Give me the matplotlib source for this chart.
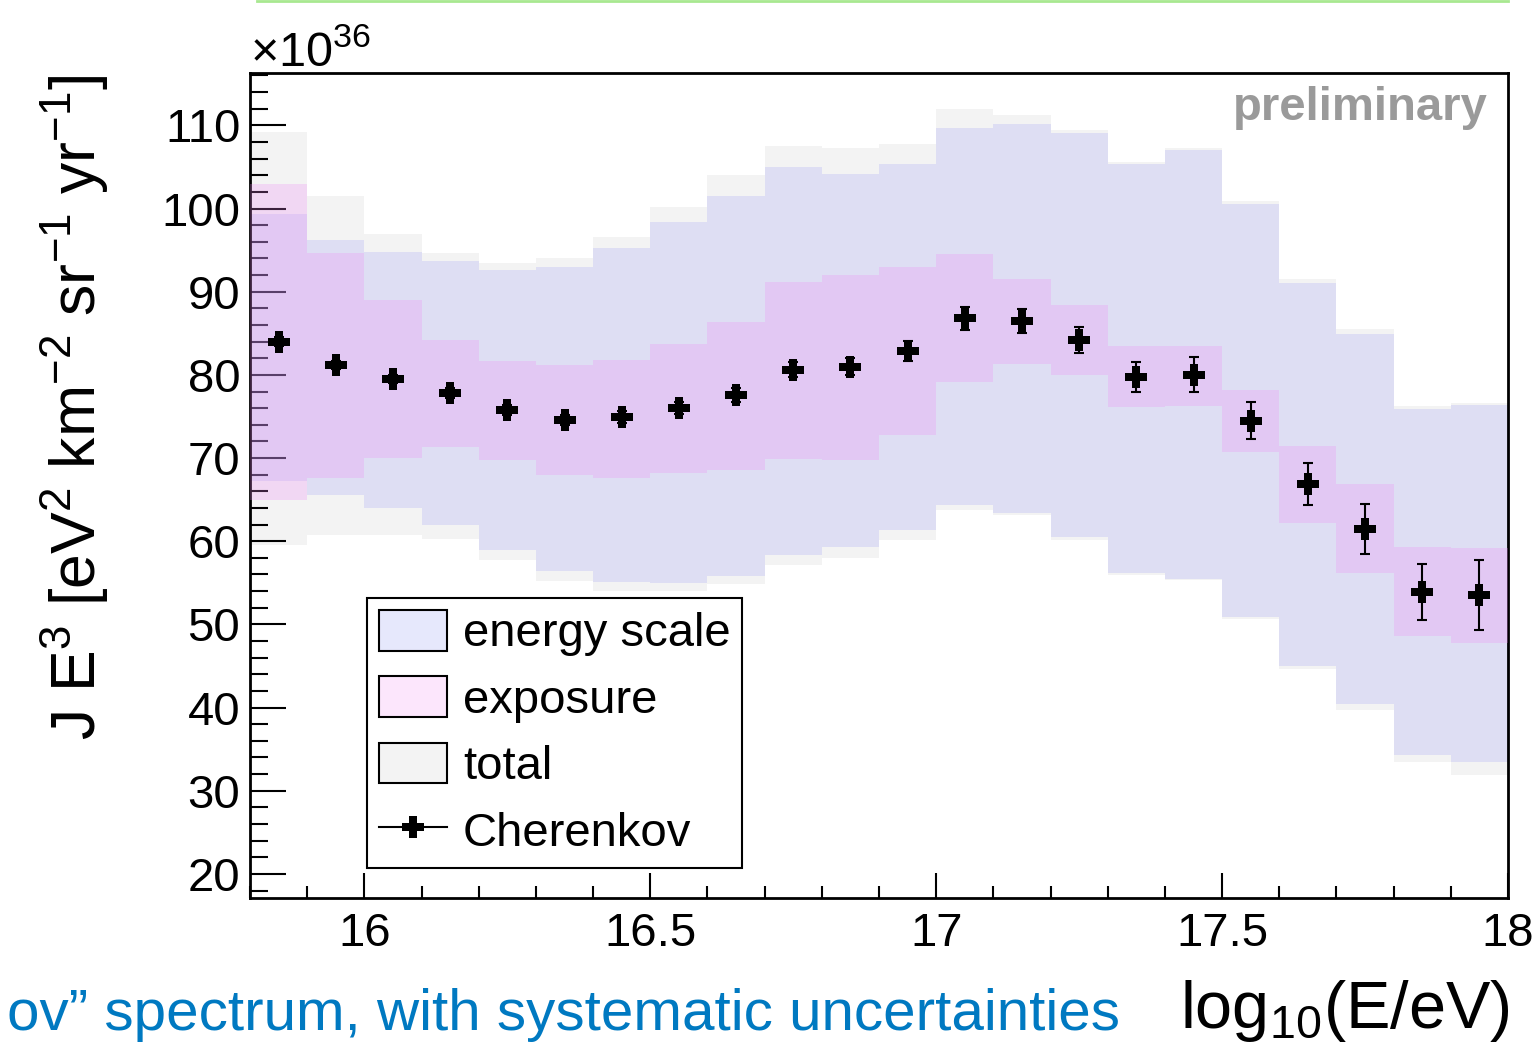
import numpy as np
import matplotlib
matplotlib.use("Agg")
import matplotlib.pyplot as plt
from matplotlib.patches import Patch
from matplotlib.lines import Line2D
from matplotlib.ticker import MultipleLocator

plt.rcParams['font.family'] = ['Liberation Sans', 'DejaVu Sans']
plt.rcParams['mathtext.fontset'] = 'custom'
plt.rcParams['mathtext.rm'] = 'Liberation Sans'
plt.rcParams['mathtext.it'] = 'Liberation Sans:italic'
plt.rcParams['mathtext.bf'] = 'Liberation Sans:bold'

# ---------------- data ----------------
lgE = [15.85, 15.95, 16.05, 16.15, 16.25, 16.35, 16.45, 16.55, 16.65, 16.75, 16.85,
       16.95, 17.05, 17.15, 17.25, 17.35, 17.45, 17.55, 17.65, 17.75, 17.85, 17.95]
bin_width = 0.1

flux = [84.0, 81.2, 79.5, 77.8, 75.8, 74.6, 74.9, 76.0, 77.6, 80.6, 81.0,
        82.9, 86.8, 86.5, 84.2, 79.8, 80.0, 74.5, 66.9, 61.5, 53.9, 53.5]
stat_err = [0.5, 0.5, 0.5, 0.6, 0.6, 0.6, 0.7, 0.7, 0.8, 0.9, 1.0,
            1.2, 1.35, 1.45, 1.6, 1.8, 2.1, 2.25, 2.55, 3.0, 3.4, 4.2]

energy_hi = [99.3, 96.2, 94.8, 93.7, 92.6, 93.0, 95.3, 98.4, 101.5, 105.0, 104.2,
             105.3, 109.7, 110.2, 109.1, 105.4, 107.1, 100.6, 91.1, 84.9, 75.9, 76.4]
energy_lo = [67.3, 65.5, 64.0, 61.9, 58.9, 56.4, 55.1, 55.0, 55.8, 58.3, 59.3,
             61.3, 64.3, 63.4, 60.5, 56.2, 55.4, 50.9, 45.0, 40.4, 34.3, 33.4]

exposure_hi = [102.9, 94.7, 89.0, 84.2, 81.7, 81.2, 81.8, 83.7, 86.4, 91.2, 92.0,
               93.0, 94.5, 91.5, 88.4, 83.5, 83.5, 78.2, 71.5, 66.9, 59.3, 59.2]
exposure_lo = [65.0, 67.6, 70.0, 71.3, 69.8, 68.0, 67.6, 68.2, 68.6, 69.9, 69.8,
               72.8, 79.2, 81.3, 80.0, 76.1, 76.3, 70.7, 62.2, 56.2, 48.6, 47.8]

total_hi = [109.2, 101.5, 97.0, 94.7, 93.5, 94.1, 96.6, 100.2, 104.0, 107.5, 107.3,
            107.8, 112.0, 111.2, 109.4, 105.6, 107.3, 100.9, 91.5, 85.5, 76.3, 76.6]
total_lo = [59.6, 60.7, 60.8, 60.3, 57.7, 55.2, 54.0, 54.0, 54.8, 57.1, 58.0,
            60.2, 63.8, 63.2, 60.2, 55.9, 55.3, 50.7, 44.6, 39.7, 33.4, 31.9]

x_ticks = [16, 16.5, 17, 17.5, 18]
x_ticklabels = ['16', '16.5', '17', '17.5', '18']
y_ticks = [20, 30, 40, 50, 60, 70, 80, 90, 100, 110]

# ---------------- colours ----------------
col_total = (243/255, 243/255, 243/255, 1.0)
col_energy = (163/255, 163/255, 243/255, 0.25)
col_exposure = (239/255, 135/255, 243/255, 0.25)

W, H = 1532, 1061
fig = plt.figure(figsize=(W/100, H/100), dpi=100)
ax = fig.add_axes([250/W, 1-898/H, 1258/W, 825/H])

centers = np.array(lgE)
edges = np.append(centers - bin_width/2, centers[-1] + bin_width/2)

def ext(a):
    a = list(a)
    return np.array(a + [a[-1]])

ax.fill_between(edges, ext(total_lo), ext(total_hi), step='post',
                facecolor=col_total, edgecolor='none', zorder=1)
ax.fill_between(edges, ext(energy_lo), ext(energy_hi), step='post',
                facecolor=col_energy, edgecolor='none', zorder=2)
ax.fill_between(edges, ext(exposure_lo), ext(exposure_hi), step='post',
                facecolor=col_exposure, edgecolor='none', zorder=3)

ax.errorbar(centers, flux, yerr=stat_err, fmt='none', ecolor='black',
            elinewidth=1.5, capsize=3.4, capthick=1.5, zorder=4)
ax.plot(centers, flux, linestyle='none', marker='P', ms=15.5, color='black',
        markeredgewidth=0, zorder=5)

ax.set_xlim(15.8, 18.0)
ax.set_ylim(17.1, 116.3)
ax.set_xticks(x_ticks)
ax.set_xticklabels(x_ticklabels)
ax.set_yticks(y_ticks)
ax.xaxis.set_minor_locator(MultipleLocator(0.1))
ax.yaxis.set_minor_locator(MultipleLocator(2))

for s in ax.spines.values():
    s.set_linewidth(2.0)
ax.tick_params(axis='both', which='both', direction='in', top=False, right=False,
               labelsize=34, width=1.5, colors='black')
ax.tick_params(axis='y', which='major', length=26, pad=7)
ax.tick_params(axis='y', which='minor', length=13)
ax.tick_params(axis='x', which='major', length=18, pad=10)
ax.tick_params(axis='x', which='minor', length=9)

handles = [
    Patch(facecolor=(230/255, 232/255, 252/255), edgecolor='black', linewidth=1.5),
    Patch(facecolor=(252/255, 230/255, 252/255), edgecolor='black', linewidth=1.5),
    Patch(facecolor=col_total, edgecolor='black', linewidth=1.5),
    Line2D([], [], color='black', lw=1.5, marker='P', ms=15.5, markeredgewidth=0),
]
labels = ['energy scale', 'exposure', 'total', 'Cherenkov']
leg = ax.legend(handles, labels, loc='upper left', bbox_to_anchor=(0.093, 0.3636),
                fontsize=34, frameon=True, fancybox=False, framealpha=1,
                edgecolor='black', handlelength=1.44, handleheight=0.95,
                handletextpad=0.34, labelspacing=0.42, borderpad=0.25,
                borderaxespad=0)
leg.get_frame().set_linewidth(1.5)
leg.set_zorder(10)

fig.text(75/W, 1-75/H, r'J E$^{3}$ [eV$^{2}$ km$^{-2}$ sr$^{-1}$ yr$^{-1}$]',
         rotation=90, ha='center', va='top', fontsize=45)
fig.text(1510/W, 1-1028/H, r'log$_{10}$(E/eV)', ha='right', va='baseline', fontsize=48)
fig.text(250/W, 1-66/H, r'×10$^{36}$', ha='left', va='baseline', fontsize=35)
fig.text(1488/W, 1-120/H, 'preliminary', ha='right', va='baseline',
         fontsize=34, fontweight='bold', color='#9a9a9a')
fig.text(1120/W, 1-1030/H, 'ov\u201d spectrum, with systematic uncertainties',
         ha='right', va='baseline', fontsize=42, color='#0079c1')
fig.add_artist(Line2D([257/W, 1508/W], [1-1/H, 1-1/H], transform=fig.transFigure,
                      color='#a8e890', lw=2))

fig.savefig('out.png', dpi=100)
